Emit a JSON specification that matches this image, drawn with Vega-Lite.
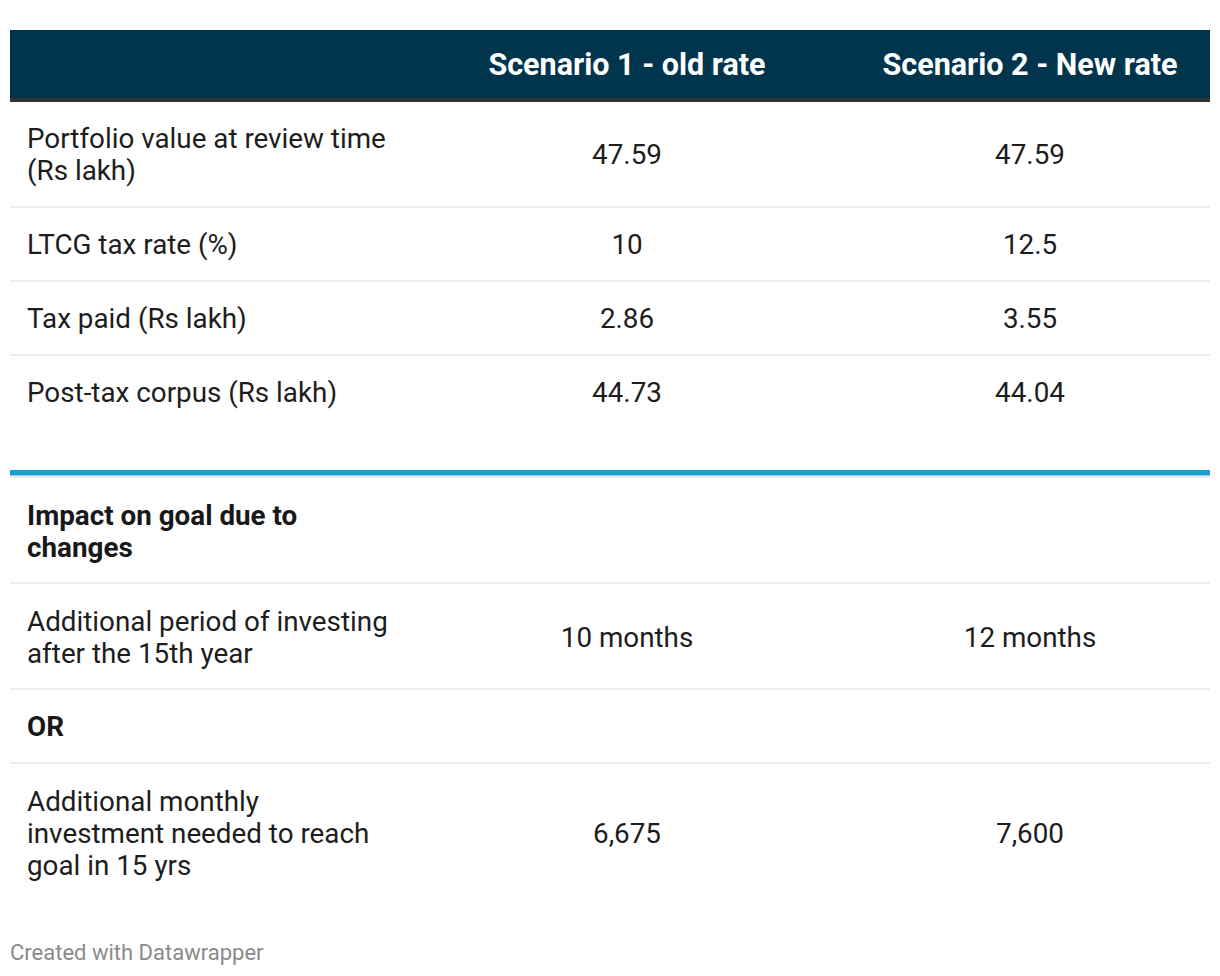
{
  "$schema": "https://vega.github.io/schema/vega-lite/v6.json",
  "width": 1220,
  "height": 976,
  "autosize": {"type": "fit", "contains": "padding"},
  "padding": 0,
  "background": "#ffffff",
  "config": {"view": {"stroke": null}},
  "datasets": {
    "bands": [
      {"part": "header", "x1": 10, "x2": 1210, "y1": 30, "y2": 98, "color": "#01354e"},
      {"part": "header rule", "x1": 10, "x2": 1210, "y1": 98, "y2": 102, "color": "#333333"},
      {"part": "section rule", "x1": 10, "x2": 1210, "y1": 470, "y2": 475.5, "color": "#1aa0cf"},
      {"part": "sep", "x1": 10, "x2": 1210, "y1": 206, "y2": 208, "color": "#ececec"},
      {"part": "sep", "x1": 10, "x2": 1210, "y1": 280, "y2": 282, "color": "#ececec"},
      {"part": "sep", "x1": 10, "x2": 1210, "y1": 354, "y2": 356, "color": "#ececec"},
      {"part": "sep", "x1": 10, "x2": 1210, "y1": 476, "y2": 478, "color": "#ececec"},
      {"part": "sep", "x1": 10, "x2": 1210, "y1": 582, "y2": 584, "color": "#ececec"},
      {"part": "sep", "x1": 10, "x2": 1210, "y1": 688, "y2": 690, "color": "#ececec"},
      {"part": "sep", "x1": 10, "x2": 1210, "y1": 762, "y2": 764, "color": "#ececec"}
    ],
    "header": [
      {"text": "Scenario 1 - old rate", "x": 627, "y": 65.5},
      {"text": "Scenario 2 - New rate", "x": 1030, "y": 65.5}
    ],
    "labels": [
      {"text": "Portfolio value at review time\n(Rs lakh)", "y": 140},
      {"text": "LTCG tax rate (%)", "y": 246},
      {"text": "Tax paid (Rs lakh)", "y": 320},
      {"text": "Post-tax corpus (Rs lakh)", "y": 394},
      {"text": "Additional period of investing\nafter the 15th year", "y": 623},
      {"text": "Additional monthly\ninvestment needed to reach\ngoal in 15 yrs", "y": 803}
    ],
    "boldLabels": [
      {"text": "Impact on goal due to\nchanges", "y": 517},
      {"text": "OR", "y": 728}
    ],
    "cells": [
      {"scenario": "Scenario 1 - old rate", "x": 627, "y": 156, "value": "47.59"},
      {"scenario": "Scenario 2 - New rate", "x": 1030, "y": 156, "value": "47.59"},
      {"scenario": "Scenario 1 - old rate", "x": 627, "y": 246, "value": "10"},
      {"scenario": "Scenario 2 - New rate", "x": 1030, "y": 246, "value": "12.5"},
      {"scenario": "Scenario 1 - old rate", "x": 627, "y": 320, "value": "2.86"},
      {"scenario": "Scenario 2 - New rate", "x": 1030, "y": 320, "value": "3.55"},
      {"scenario": "Scenario 1 - old rate", "x": 627, "y": 394, "value": "44.73"},
      {"scenario": "Scenario 2 - New rate", "x": 1030, "y": 394, "value": "44.04"},
      {"scenario": "Scenario 1 - old rate", "x": 627, "y": 639, "value": "10 months"},
      {"scenario": "Scenario 2 - New rate", "x": 1030, "y": 639, "value": "12 months"},
      {"scenario": "Scenario 1 - old rate", "x": 627, "y": 835, "value": "6,675"},
      {"scenario": "Scenario 2 - New rate", "x": 1030, "y": 835, "value": "7,600"}
    ],
    "footer": [
      {"text": "Created with Datawrapper", "x": 10, "y": 953}
    ]
  },
  "layer": [
    {
      "data": {"name": "bands"},
      "mark": {"type": "rect"},
      "encoding": {
        "x": {"field": "x1", "type": "quantitative", "scale": {"domain": [0, 1220], "nice": false, "zero": false}, "axis": null},
        "x2": {"field": "x2"},
        "y": {"field": "y1", "type": "quantitative", "scale": {"domain": [976, 0], "nice": false, "zero": false}, "axis": null},
        "y2": {"field": "y2"},
        "color": {"field": "color", "type": "nominal", "scale": null}
      }
    },
    {
      "data": {"name": "header"},
      "mark": {"type": "text", "font": "Roboto", "fontSize": 30.5, "fontWeight": "bold", "color": "#ffffff", "align": "center", "baseline": "middle"},
      "encoding": {
        "x": {"field": "x", "type": "quantitative"},
        "y": {"field": "y", "type": "quantitative"},
        "text": {"field": "text"}
      }
    },
    {
      "data": {"name": "labels"},
      "mark": {"type": "text", "font": "Roboto", "fontSize": 27.8, "color": "#1d1d1d", "align": "left", "baseline": "middle", "lineBreak": "\n", "lineHeight": 32, "x": 27},
      "encoding": {
        "y": {"field": "y", "type": "quantitative"},
        "text": {"field": "text"}
      }
    },
    {
      "data": {"name": "boldLabels"},
      "mark": {"type": "text", "font": "Roboto", "fontSize": 27.8, "fontWeight": "bold", "color": "#181818", "align": "left", "baseline": "middle", "lineBreak": "\n", "lineHeight": 32, "x": 27},
      "encoding": {
        "y": {"field": "y", "type": "quantitative"},
        "text": {"field": "text"}
      }
    },
    {
      "data": {"name": "cells"},
      "mark": {"type": "text", "font": "Roboto", "fontSize": 27.8, "color": "#1d1d1d", "align": "center", "baseline": "middle"},
      "encoding": {
        "x": {"field": "x", "type": "quantitative"},
        "y": {"field": "y", "type": "quantitative"},
        "text": {"field": "value"}
      }
    },
    {
      "data": {"name": "footer"},
      "mark": {"type": "text", "font": "Roboto", "fontSize": 22, "color": "#8a8a8a", "align": "left", "baseline": "middle"},
      "encoding": {
        "x": {"field": "x", "type": "quantitative"},
        "y": {"field": "y", "type": "quantitative"},
        "text": {"field": "text"}
      }
    }
  ]
}
